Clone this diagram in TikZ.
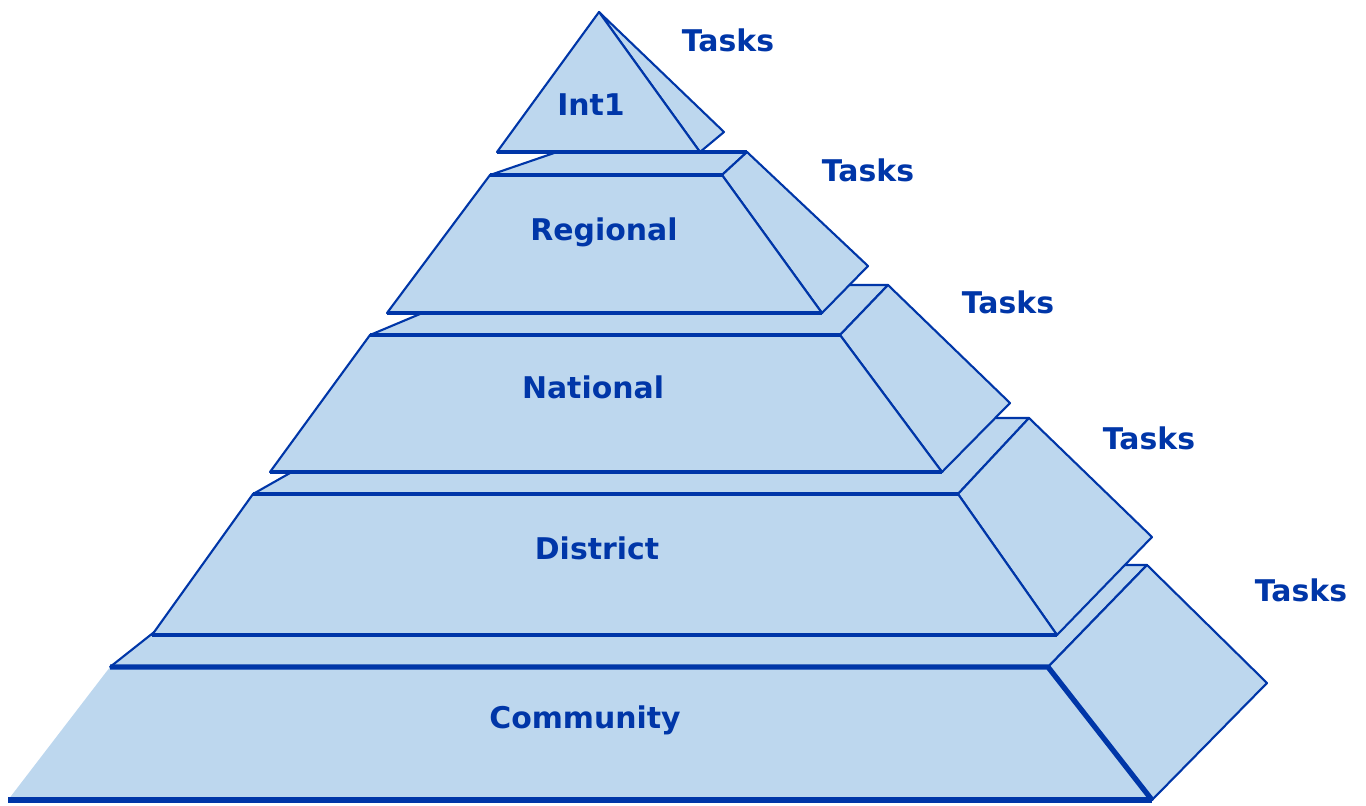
\documentclass[tikz,border=0pt]{standalone}
\usepackage{fontspec}
\setmainfont{DejaVu Sans}
\definecolor{tierfill}{HTML}{BDD7EE}
\definecolor{tierline}{HTML}{0036A8}

\begin{document}
\begin{tikzpicture}[x=0.01cm, y=-0.01cm,
  face/.style={fill=tierfill, draw=tierline, line width=0.6pt, line join=round},
  rim/.style={draw=tierline, line width=0.9pt},
  heavy/.style={draw=tierline, line width=1.5pt, line join=round},
  tier/.style={font=\bfseries\fontsize{8.5}{10}\selectfont, text=tierline, inner sep=0pt},
  tasks/.style={tier}]

  \useasboundingbox (0,0) rectangle (1366,805);

  \draw[face] (110,667) -- (1048,667) -- (1147,565) -- (239,565) -- cycle;
  \draw[face] (1048,667) -- (1147,565) -- (1267,683) -- (1152,800) -- cycle;
  \fill[tierfill] (8,800) -- (110,667) -- (1048,667) -- (1152,800) -- cycle;
  \draw[heavy] (110,667) -- (1048,667) -- (1152,800);
  \draw[heavy] (8,800) -- (1152,800);
  \node[tier] (community) at (585,720) {Community};

  \draw[face] (253,494) -- (958,494) -- (1029,418) -- (387,418) -- cycle;
  \draw[face] (958,494) -- (1029,418) -- (1152,537) -- (1057,635) -- cycle;
  \draw[face] (253,494) -- (958,494) -- (1057,635) -- (152,635) -- cycle;
  \draw[rim] (253,494) -- (958,494) (152,635) -- (1057,635);
  \node[tier] (district) at (597,548) {District};

  \draw[face] (370,335) -- (840,335) -- (888,285) -- (489,285) -- cycle;
  \draw[face] (840,335) -- (888,285) -- (1010,403) -- (942,472) -- cycle;
  \draw[face] (370,335) -- (840,335) -- (942,472) -- (270,472) -- cycle;
  \draw[rim] (370,335) -- (840,335) (270,472) -- (942,472);
  \node[tier] (national) at (593,387) {National};

  \draw[face] (490,175) -- (722,175) -- (747,152) -- (557,152) -- cycle;
  \draw[face] (722,175) -- (747,152) -- (868,266) -- (822,313) -- cycle;
  \draw[face] (490,175) -- (722,175) -- (822,313) -- (387,313) -- cycle;
  \draw[rim] (490,175) -- (722,175) (387,313) -- (822,313);
  \node[tier] (regional) at (604,232) {Regional};

  \draw[face] (599,12) -- (724,132) -- (700,152) -- cycle;
  \draw[face] (599,12) -- (700,152) -- (497,152) -- cycle;
  \draw[rim] (497,152) -- (747,152);
  \node[tier] (int1) at (591,105) {Int1};

  \node[tasks] (tasks1) at (728,40) {Tasks};
  \node[tasks] (tasks2) at (868,170) {Tasks};
  \node[tasks] (tasks3) at (1008,302) {Tasks};
  \node[tasks] (tasks4) at (1149,438) {Tasks};
  \node[tasks] (tasks5) at (1301,590) {Tasks};

\end{tikzpicture}
\end{document}
